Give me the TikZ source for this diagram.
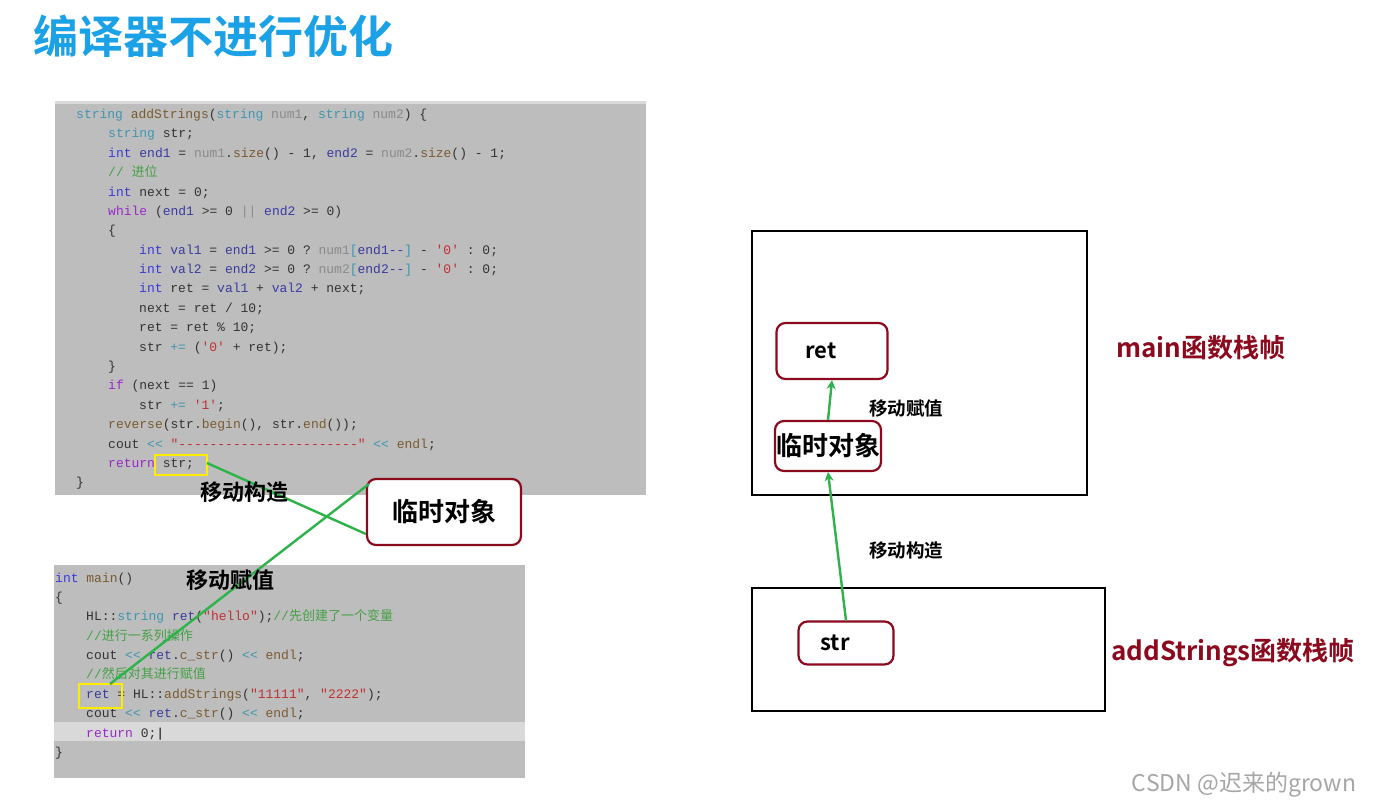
\documentclass[tikz,border=0pt]{standalone}
\usepackage{fontspec}
\setmainfont{Noto Sans CJK SC}
\setmonofont{Liberation Mono}
\newfontfamily\cjk{Noto Sans CJK SC}
\newfontfamily\cjkb{Noto Sans CJK SC}[BoldFont={* Bold}]
\definecolor{kw}{HTML}{3A3AD8}
\definecolor{ctl}{HTML}{9A28C8}
\definecolor{ty}{HTML}{3F95B0}
\definecolor{pa}{HTML}{8A8A8A}
\definecolor{fn}{HTML}{7A5A30}
\definecolor{st}{HTML}{C03030}
\definecolor{cm}{HTML}{45A045}
\definecolor{va}{HTML}{3A3AA0}
\definecolor{tx}{HTML}{333333}
\definecolor{dred}{HTML}{8B0A1E}
\definecolor{gline}{HTML}{2DB34A}
\definecolor{ttl}{HTML}{1BA1E6}
\newcommand\K[1]{\textcolor{kw}{#1}}
\newcommand\C[1]{\textcolor{ctl}{#1}}
\newcommand\T[1]{\textcolor{ty}{#1}}
\newcommand\Pa[1]{\textcolor{pa}{#1}}
\newcommand\F[1]{\textcolor{fn}{#1}}
\newcommand\Sr[1]{\textcolor{st}{#1}}
\newcommand\Cm[1]{\textcolor{cm}{#1}}
\newcommand\V[1]{\textcolor{va}{#1}}
\tikzset{
 code/.style={anchor=base west,inner sep=0,font=\ttfamily\fontsize{13}{14}\selectfont,text=tx},
 frame/.style={draw=dred,line width=2.2pt,rounded corners=9pt,fill=white},
 lab/.style={font=\cjkb\bfseries\fontsize{22}{25}\selectfont},
 redlab/.style={font=\cjkb\bfseries\fontsize{26}{29}\selectfont,text=dred},
 gl/.style={gline,line width=2.4pt},
 ga/.style={gline,line width=2.4pt,-{Stealth[length=9pt,width=9pt]}},
 ybox/.style={draw=yellow!95!orange,line width=2.4pt},
 stack/.style={draw=black,line width=2pt}
}
\usetikzlibrary{arrows.meta}
\begin{document}
\begin{tikzpicture}[x=1pt,y=-1pt]
\useasboundingbox (0,0) rectangle (1373,808);
\fill[white] (0,0) rectangle (1373,808);
\node[anchor=west,inner sep=0,text=ttl,font=\cjkb\bfseries\fontsize{45}{49}\selectfont] (title) at (33,36) {编译器不进行优化};
% code panel 1
\fill[black!26] (55,101) rectangle (646,495);
\fill[black!15] (55,101) rectangle (646,104);
\node[code] (l1) at (76,118) {\T{string} \F{addStrings}(\T{string} \Pa{num1}, \T{string} \Pa{num2}) \{};
\node[code] (l2) at (108,137) {\T{string} str;};
\node[code] (l3) at (108,157) {\K{int} \V{end1} = \Pa{num1}.\F{size}() - 1, \V{end2} = \Pa{num2}.\F{size}() - 1;};
\node[code] (l4) at (108,176) {\Cm{// {\cjk 进位}}};
\node[code] (l5) at (108,196) {\K{int} next = 0;};
\node[code] (l6) at (108,215) {\C{while} (\V{end1} >= 0 \Pa{||} \V{end2} >= 0)};
\node[code] (l7) at (108,234) {\{};
\node[code] (l8) at (139,254) {\K{int} \V{val1} = \V{end1} >= 0 ? \Pa{num1}\T{[}\V{end1--}\T{]} - \Sr{'0'} : 0;};
\node[code] (l9) at (139,273) {\K{int} \V{val2} = \V{end2} >= 0 ? \Pa{num2}\T{[}\V{end2--}\T{]} - \Sr{'0'} : 0;};
\node[code] (l10) at (139,292) {\K{int} ret = \V{val1} + \V{val2} + next;};
\node[code] (l11) at (139,312) {next = ret / 10;};
\node[code] (l12) at (139,331) {ret = ret \% 10;};
\node[code] (l13) at (139,351) {str \T{+=} (\Sr{'0'} + ret);};
\node[code] (l14) at (108,370) {\}};
\node[code] (l15) at (108,389) {\C{if} (next == 1)};
\node[code] (l16) at (139,409) {str \T{+=} \Sr{'1'};};
\node[code] (l17) at (108,428) {\F{reverse}(str.\F{begin}(), str.\F{end}());};
\node[code] (l18) at (108,448) {cout \T{<<} \Sr{"-----------------------"} \T{<<} \F{endl};};
\node[code] (l19) at (108,467) {\C{return} str;};
\node[code] (l20) at (76,486) {\}};
% code panel 2
\fill[black!26] (54,565) rectangle (525,778);
\fill[black!15] (54,722) rectangle (525,741);
\node[code] (m1) at (55,582) {\K{int} \F{main}()};
\node[code] (m2) at (55,601) {\{};
\node[code] (m3) at (86,620) {HL::\T{string} \V{ret}(\Sr{"hello"});\Cm{//{\cjk 先创建了一个变量}}};
\node[code] (m4) at (86,640) {\Cm{//{\cjk 进行一系列操作}}};
\node[code] (m5) at (86,659) {cout \T{<<} \V{ret}.\F{c\_str}() \T{<<} \F{endl};};
\node[code] (m6) at (86,678) {\Cm{//{\cjk 然后对其进行赋值}}};
\node[code] (m7) at (86,698) {\V{ret} = HL::\F{addStrings}(\Sr{"11111"}, \Sr{"2222"});};
\node[code] (m8) at (86,717) {cout \T{<<} \V{ret}.\F{c\_str}() \T{<<} \F{endl};};
\node[code] (m9) at (86,737) {\C{return} 0;\textcolor{black}{|}};
\node[code] (m10) at (55,756) {\}};
% yellow boxes
\draw[ybox] (155,455) rectangle (207,475);
\coordinate (yaE) at (207,463);
\draw[ybox] (79,684) rectangle (122,708);
\coordinate (ybN) at (110,684);
% left temp object
\node[frame,minimum width=154pt,minimum height=66pt,font=\cjkb\bfseries\fontsize{26}{29}\selectfont] (tmpL) at (444,512) {临时对象};
\coordinate (tA) at ([yshift=-22pt]tmpL.west);
\coordinate (tB) at ([xshift=3pt,yshift=28pt]tmpL.west);
\draw[gl] (yaE) -- (tA);
\draw[gl] (tB) -- (ybN);
\node[lab] (mc) at (244,492) {移动构造};
\node[lab] (mf) at (230,580) {移动赋值};
% right stack frames
\draw[stack] (752,231) rectangle (1087,495);
\draw[stack] (752,588) rectangle (1105,711);
\node[frame,minimum width=111pt,minimum height=56pt,font=\cjkb\bfseries\fontsize{22}{25}\selectfont,text=black] (ret) at (832,351) {\hspace*{-22pt}ret};
\node[frame,minimum width=106pt,minimum height=50pt,inner sep=0,font=\cjkb\bfseries\fontsize{26}{29}\selectfont,text=black] (tmpR) at (828,446) {临时对象};
\node[frame,minimum width=95pt,minimum height=43pt,font=\cjkb\bfseries\fontsize{22}{25}\selectfont,text=black] (str) at (846,643) {\hspace*{-22pt}str};
\draw[ga] (str.north) -- (tmpR.south);
\draw[ga] (tmpR.north) -- (ret.south);
\node[font=\cjkb\bfseries\fontsize{18.5}{21}\selectfont] (mfR) at (906,409) {移动赋值};
\node[font=\cjkb\bfseries\fontsize{18.5}{21}\selectfont] (mcR) at (906,551) {移动构造};
\node[redlab] (mainlab) at (1201,348) {main函数栈帧};
\node[redlab] (addlab) at (1233,653) {addStrings函数栈帧};
\node[font=\cjk\fontsize{23}{26}\selectfont,text=black!35] (wm) at (1244,785) {CSDN @迟来的grown};
\end{tikzpicture}
\end{document}
